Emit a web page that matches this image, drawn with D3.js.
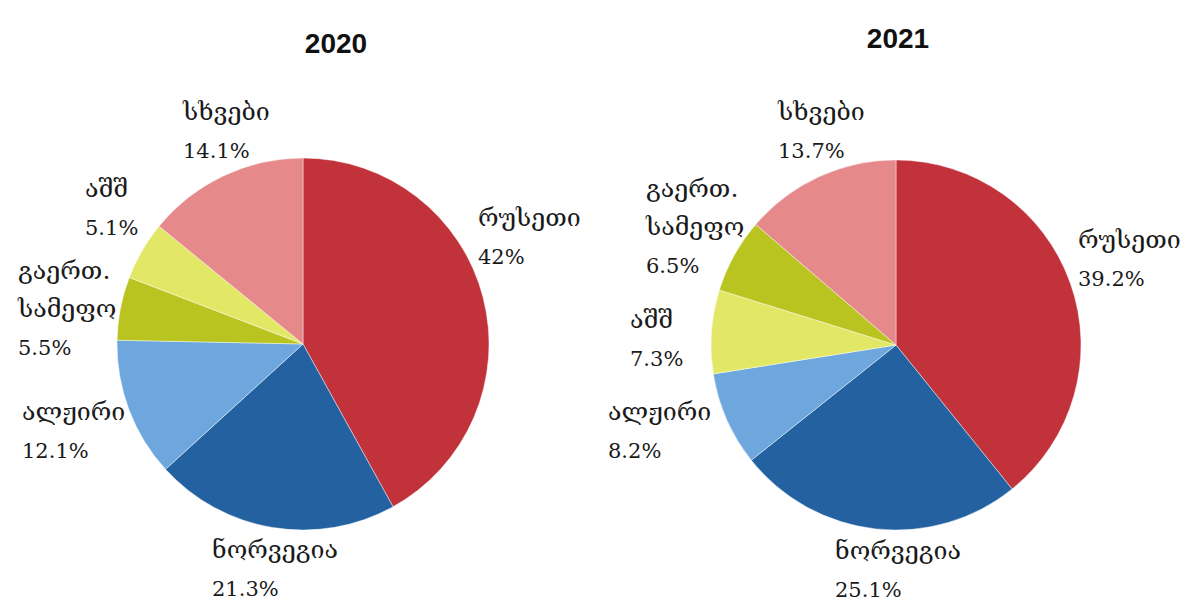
<!DOCTYPE html>
<html>
<head>
<meta charset="utf-8">
<script src="https://cdn.jsdelivr.net/npm/d3@7"></script>
<style>
  html, body { margin: 0; padding: 0; background: #ffffff; }
  svg { display: block; }
  .title { font-family: "Liberation Sans", Arial, sans-serif; font-weight: bold; font-size: 28px; fill: #111; }
  .lbl { font-family: "DejaVu Serif", "DejaVu Sans", serif; font-size: 21px; fill: #1a1a1a; }
  .geo { font-size: 25px; }
</style>
</head>
<body>
<svg id="chart" width="1186" height="610"></svg>
<script>
// ---- data ----
const years = ["2020", "2021"];
const categories2020 = ["რუსეთი", "ნორვეგია", "ალჟირი", "გაერთ. სამეფო", "აშშ", "სხვები"];
const values2020 = [42, 21.3, 12.1, 5.5, 5.1, 14.1];
const labels2020 = ["42%", "21.3%", "12.1%", "5.5%", "5.1%", "14.1%"];
const categories2021 = ["რუსეთი", "ნორვეგია", "ალჟირი", "აშშ", "გაერთ. სამეფო", "სხვები"];
const values2021 = [39.2, 25.1, 8.2, 7.3, 6.5, 13.7];
const labels2021 = ["39.2%", "25.1%", "8.2%", "7.3%", "6.5%", "13.7%"];

// ---- styling / layout ----
const colorScale = d3.scaleOrdinal()
  .domain(["რუსეთი", "ნორვეგია", "ალჟირი", "გაერთ. სამეფო", "აშშ", "სხვები"])
  .range(["#C1323B", "#2461A1", "#6EA7DD", "#BAC421", "#E2E865", "#E5898B"]);

const pies = [
  { cats: categories2020, vals: values2020, labs: labels2020, cx: 303, cy: 344, r: 186, tx: 336, ty: 53,
    pos: { "რუსეთი": [478, 226], "ნორვეგია": [212, 558], "ალჟირი": [22, 420],
           "გაერთ. სამეფო": [18, 279], "აშშ": [85, 197], "სხვები": [183, 120] } },
  { cats: categories2021, vals: values2021, labs: labels2021, cx: 896, cy: 345, r: 185, tx: 898, ty: 48,
    pos: { "რუსეთი": [1078, 248], "ნორვეგია": [835, 559], "ალჟირი": [608, 420],
           "აშშ": [630, 328], "გაერთ. სამეფო": [646, 197], "სხვები": [778, 120] } }
];
const lineGap = 38;

const svg = d3.select("#chart");
const pieGen = d3.pie().sort(null).value(d => d.v);

pies.forEach((p, i) => {
  const data = p.cats.map((c, j) => ({ c, v: p.vals[j], l: p.labs[j] }));
  const arc = d3.arc().innerRadius(0).outerRadius(p.r);
  const g = svg.append("g").attr("transform", `translate(${p.cx},${p.cy})`);
  g.selectAll("path").data(pieGen(data)).join("path")
    .attr("d", arc)
    .attr("fill", d => colorScale(d.data.c))
    .attr("stroke", "rgba(255,255,255,0.55)")
    .attr("stroke-width", 0.8);

  svg.append("text").attr("class", "title")
    .attr("x", p.tx).attr("y", p.ty).attr("text-anchor", "middle").text(years[i]);

  data.forEach(d => {
    const [x, y] = p.pos[d.c];
    const lines = d.c.indexOf(" ") > 0 ? d.c.split(" ") : [d.c];
    const t = svg.append("text").attr("class", "lbl").attr("x", x).attr("y", y);
    lines.forEach((ln, k) => {
      t.append("tspan").attr("class", "geo").attr("x", x).attr("y", y + k * lineGap).text(ln);
    });
    t.append("tspan").attr("x", x).attr("y", y + lines.length * lineGap).text(d.l);
  });
});
</script>
</body>
</html>
